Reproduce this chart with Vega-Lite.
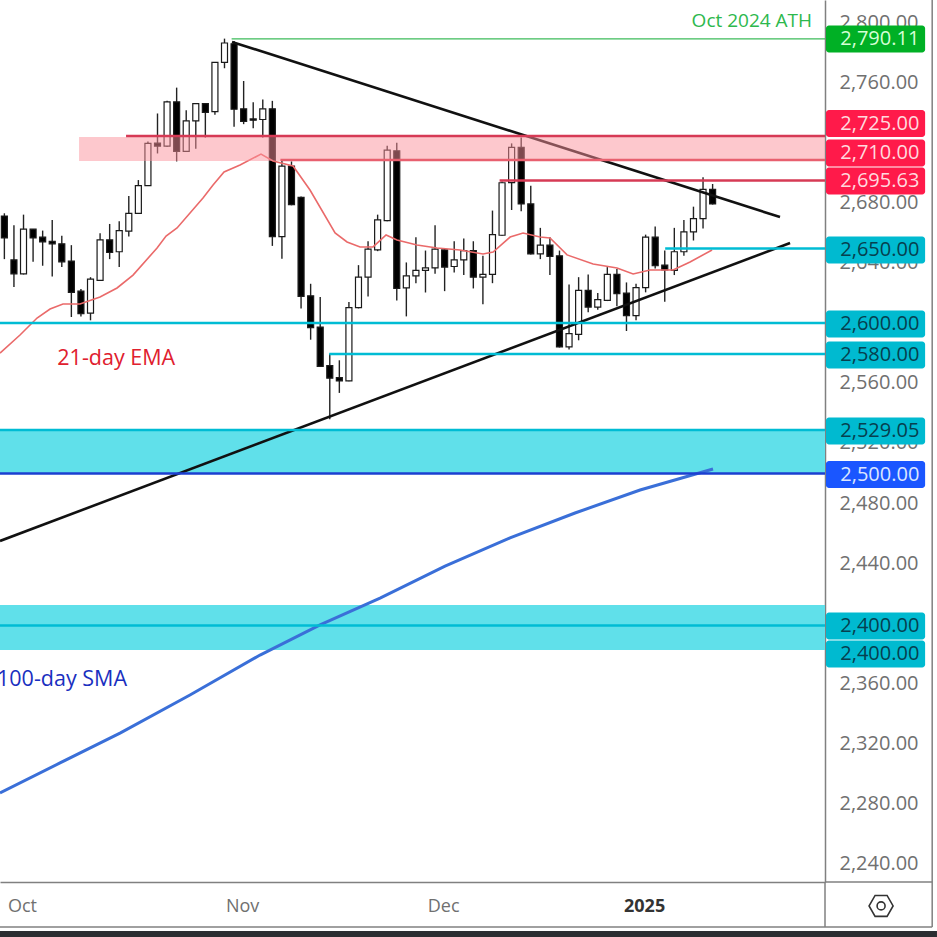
{
  "$schema": "https://vega.github.io/schema/vega-lite/v6.json",
  "width": 825,
  "height": 882,
  "autosize": {"type": "none", "contains": "content"},
  "padding": {"left": 0, "top": 0, "right": 112, "bottom": 55},
  "background": "white",
  "config": {"view": {"stroke": null}, "font": "Open Sans"},
  "datasets": {
    "candles": [
      {"bar":-2,"open":2671.0,"high":2672.8,"low":2642.3,"close":2656.4,"dir":"down"},
      {"bar":-1,"open":2641.8,"high":2664.8,"low":2623.7,"close":2632.5,"dir":"down"},
      {"bar":0,"open":2632.5,"high":2671.9,"low":2632.1,"close":2662.2,"dir":"up"},
      {"bar":1,"open":2662.2,"high":2662.2,"low":2640.5,"close":2656.4,"dir":"down"},
      {"bar":2,"open":2656.9,"high":2661.3,"low":2637.9,"close":2653.8,"dir":"down"},
      {"bar":3,"open":2654.2,"high":2668.4,"low":2630.8,"close":2652.5,"dir":"down"},
      {"bar":4,"open":2652.5,"high":2657.8,"low":2637.0,"close":2640.5,"dir":"down"},
      {"bar":5,"open":2641.0,"high":2651.6,"low":2603.8,"close":2620.2,"dir":"down"},
      {"bar":6,"open":2621.0,"high":2622.4,"low":2604.2,"close":2606.0,"dir":"down"},
      {"bar":7,"open":2606.4,"high":2630.3,"low":2601.6,"close":2629.0,"dir":"up"},
      {"bar":8,"open":2628.1,"high":2659.5,"low":2627.7,"close":2655.1,"dir":"up"},
      {"bar":9,"open":2655.1,"high":2665.7,"low":2642.3,"close":2646.7,"dir":"down"},
      {"bar":10,"open":2647.2,"high":2667.5,"low":2637.0,"close":2661.3,"dir":"up"},
      {"bar":11,"open":2660.9,"high":2684.3,"low":2657.3,"close":2672.8,"dir":"up"},
      {"bar":12,"open":2672.8,"high":2694.9,"low":2672.4,"close":2691.2,"dir":"up"},
      {"bar":13,"open":2691.2,"high":2720.6,"low":2691.0,"close":2719.3,"dir":"up"},
      {"bar":14,"open":2719.5,"high":2739.2,"low":2712.6,"close":2717.5,"dir":"down"},
      {"bar":15,"open":2717.5,"high":2747.6,"low":2717.0,"close":2746.9,"dir":"up"},
      {"bar":16,"open":2746.9,"high":2756.4,"low":2707.3,"close":2714.0,"dir":"down"},
      {"bar":17,"open":2714.0,"high":2741.4,"low":2713.5,"close":2734.3,"dir":"up"},
      {"bar":18,"open":2734.3,"high":2745.8,"low":2715.7,"close":2745.8,"dir":"up"},
      {"bar":19,"open":2745.8,"high":2745.8,"low":2723.2,"close":2740.0,"dir":"down"},
      {"bar":20,"open":2740.5,"high":2773.2,"low":2738.3,"close":2773.2,"dir":"up"},
      {"bar":21,"open":2773.2,"high":2789.0,"low":2769.3,"close":2786.1,"dir":"up"},
      {"bar":22,"open":2785.6,"high":2787.4,"low":2730.3,"close":2742.0,"dir":"down"},
      {"bar":23,"open":2742.3,"high":2760.8,"low":2732.1,"close":2733.9,"dir":"down"},
      {"bar":24,"open":2735.6,"high":2746.7,"low":2729.4,"close":2734.7,"dir":"down"},
      {"bar":25,"open":2735.2,"high":2748.5,"low":2723.2,"close":2742.3,"dir":"up"},
      {"bar":26,"open":2742.3,"high":2747.6,"low":2651.1,"close":2657.3,"dir":"down"},
      {"bar":27,"open":2657.3,"high":2708.9,"low":2642.5,"close":2704.2,"dir":"up"},
      {"bar":28,"open":2704.2,"high":2707.3,"low":2678.1,"close":2678.6,"dir":"down"},
      {"bar":29,"open":2683.4,"high":2683.9,"low":2609.5,"close":2617.5,"dir":"down"},
      {"bar":30,"open":2617.9,"high":2625.9,"low":2588.7,"close":2596.7,"dir":"down"},
      {"bar":31,"open":2597.1,"high":2617.1,"low":2570.6,"close":2571.0,"dir":"down"},
      {"bar":32,"open":2571.5,"high":2579.4,"low":2535.7,"close":2563.1,"dir":"down"},
      {"bar":33,"open":2563.5,"high":2575.0,"low":2553.3,"close":2561.3,"dir":"down"},
      {"bar":34,"open":2561.3,"high":2613.7,"low":2561.1,"close":2610.0,"dir":"up"},
      {"bar":35,"open":2610.0,"high":2638.3,"low":2609.5,"close":2630.3,"dir":"up"},
      {"bar":36,"open":2630.3,"high":2654.2,"low":2617.5,"close":2648.9,"dir":"up"},
      {"bar":37,"open":2648.5,"high":2671.9,"low":2647.6,"close":2668.4,"dir":"up"},
      {"bar":38,"open":2667.9,"high":2717.7,"low":2667.5,"close":2714.8,"dir":"up"},
      {"bar":39,"open":2714.4,"high":2719.7,"low":2614.8,"close":2622.8,"dir":"down"},
      {"bar":40,"open":2623.2,"high":2640.1,"low":2604.2,"close":2631.2,"dir":"up"},
      {"bar":41,"open":2631.2,"high":2656.9,"low":2626.3,"close":2634.8,"dir":"up"},
      {"bar":42,"open":2634.8,"high":2648.0,"low":2620.1,"close":2636.5,"dir":"up"},
      {"bar":43,"open":2636.5,"high":2664.8,"low":2632.5,"close":2648.9,"dir":"up"},
      {"bar":44,"open":2648.5,"high":2649.4,"low":2621.0,"close":2637.0,"dir":"down"},
      {"bar":45,"open":2637.4,"high":2654.2,"low":2633.4,"close":2641.8,"dir":"up"},
      {"bar":46,"open":2641.8,"high":2656.0,"low":2631.7,"close":2648.0,"dir":"up"},
      {"bar":47,"open":2648.0,"high":2654.2,"low":2622.8,"close":2630.3,"dir":"down"},
      {"bar":48,"open":2630.3,"high":2644.5,"low":2612.2,"close":2632.1,"dir":"up"},
      {"bar":49,"open":2632.1,"high":2674.6,"low":2626.3,"close":2658.6,"dir":"up"},
      {"bar":50,"open":2658.2,"high":2694.0,"low":2657.8,"close":2693.1,"dir":"up"},
      {"bar":51,"open":2693.2,"high":2719.3,"low":2675.0,"close":2716.6,"dir":"up"},
      {"bar":52,"open":2716.6,"high":2723.3,"low":2674.1,"close":2679.0,"dir":"down"},
      {"bar":53,"open":2679.0,"high":2691.2,"low":2645.4,"close":2645.8,"dir":"down"},
      {"bar":54,"open":2645.8,"high":2663.1,"low":2642.3,"close":2651.6,"dir":"up"},
      {"bar":55,"open":2651.6,"high":2656.9,"low":2631.7,"close":2644.1,"dir":"down"},
      {"bar":56,"open":2644.5,"high":2648.0,"low":2583.5,"close":2583.9,"dir":"down"},
      {"bar":57,"open":2583.9,"high":2625.5,"low":2582.1,"close":2592.7,"dir":"up"},
      {"bar":58,"open":2592.3,"high":2630.3,"low":2588.3,"close":2621.5,"dir":"up"},
      {"bar":59,"open":2621.5,"high":2632.1,"low":2606.9,"close":2610.4,"dir":"down"},
      {"bar":60,"open":2610.4,"high":2619.7,"low":2608.7,"close":2615.3,"dir":"up"},
      {"bar":61,"open":2614.9,"high":2637.0,"low":2614.4,"close":2632.1,"dir":"up"},
      {"bar":62,"open":2632.1,"high":2635.7,"low":2610.9,"close":2619.3,"dir":"down"},
      {"bar":63,"open":2619.7,"high":2626.8,"low":2594.5,"close":2604.7,"dir":"down"},
      {"bar":64,"open":2604.7,"high":2625.9,"low":2601.6,"close":2623.3,"dir":"up"},
      {"bar":65,"open":2623.3,"high":2658.6,"low":2620.2,"close":2656.9,"dir":"up"},
      {"bar":66,"open":2656.9,"high":2664.0,"low":2636.1,"close":2637.9,"dir":"down"},
      {"bar":67,"open":2638.3,"high":2648.0,"low":2614.0,"close":2635.2,"dir":"down"},
      {"bar":68,"open":2634.8,"high":2663.1,"low":2631.7,"close":2647.2,"dir":"up"},
      {"bar":69,"open":2647.2,"high":2668.4,"low":2644.5,"close":2660.4,"dir":"up"},
      {"bar":70,"open":2660.4,"high":2677.2,"low":2654.7,"close":2669.3,"dir":"up"},
      {"bar":71,"open":2669.3,"high":2696.7,"low":2662.6,"close":2688.7,"dir":"up"},
      {"bar":72,"open":2688.7,"high":2692.3,"low":2678.6,"close":2679.0,"dir":"down"}
    ],
    "ema": [
      {"bar":-2.3,"value":2579.8},{"bar":-0.21,"value":2591.8},{"bar":1.57,"value":2603.1},{"bar":2.93,"value":2609.1},
      {"bar":4.28,"value":2612.4},{"bar":6.06,"value":2612.4},{"bar":8.15,"value":2617.1},{"bar":9.93,"value":2623.1},
      {"bar":11.6,"value":2631.7},{"bar":14.11,"value":2649.7},{"bar":15.05,"value":2657.7},{"bar":16.2,"value":2663.0},
      {"bar":18.91,"value":2683.0},{"bar":19.96,"value":2691.6},{"bar":21.11,"value":2700.3},{"bar":22.78,"value":2704.9},
      {"bar":24.97,"value":2712.2},{"bar":26.23,"value":2707.6},{"bar":28.32,"value":2704.3},{"bar":30.09,"value":2688.3},
      {"bar":32.71,"value":2659.7},{"bar":33.96,"value":2653.7},{"bar":35.32,"value":2650.4},{"bar":36.68,"value":2650.4},
      {"bar":38.04,"value":2658.4},{"bar":39.18,"value":2655.0},{"bar":41.27,"value":2651.7},{"bar":43.37,"value":2649.7},
      {"bar":45.77,"value":2648.4},{"bar":48.17,"value":2645.7},{"bar":49.22,"value":2647.0},{"bar":51.0,"value":2657.0},
      {"bar":52.35,"value":2659.7},{"bar":54.13,"value":2657.0},{"bar":55.17,"value":2656.4},{"bar":56.95,"value":2645.1},
      {"bar":59.67,"value":2639.1},{"bar":62.17,"value":2636.4},{"bar":63.85,"value":2632.4},{"bar":65.62,"value":2635.1},
      {"bar":68.03,"value":2635.1},{"bar":69.8,"value":2640.4},{"bar":72.1,"value":2648.4}
    ],
    "sma": [
      {"bar":-2.3,"value":2287.1},{"bar":3.97,"value":2307.1},{"bar":10.24,"value":2327.0},{"bar":17.55,"value":2352.3},
      {"bar":24.87,"value":2378.9},{"bar":31.14,"value":2398.9},{"bar":37.41,"value":2416.8},{"bar":44.2,"value":2438.1},
      {"bar":50.99,"value":2456.8},{"bar":57.78,"value":2473.4},{"bar":64.58,"value":2488.7},{"bar":72.2,"value":2502.7}
    ],
    "trend": [
      {"bar0":21.94,"bar1":79.2,"p0":2786.8,"p1":2670.3},
      {"bar0":-2.3,"bar1":80.25,"p0":2454.8,"p1":2653.0}
    ],
    "levels": [
      {"name":"ath","kind":"ath","start":21.9,"end":83.9,"price":2788.8},
      {"name":"r2725","kind":"res","start":10.87,"end":83.9,"price":2724.2},
      {"name":"r2710","kind":"res2","start":27,"end":83.9,"price":2708.2},
      {"name":"r2695","kind":"res","start":49.9,"end":83.9,"price":2694.6},
      {"name":"s2650","kind":"sup","start":67.2,"end":83.9,"price":2649.4},
      {"name":"s2600","kind":"sup","start":-2.3,"end":83.9,"price":2599.8},
      {"name":"s2580","kind":"sup","start":32.1,"end":83.9,"price":2579.2},
      {"name":"s2529","kind":"sup","start":-2.3,"end":83.9,"price":2528.6},
      {"name":"p2500","kind":"piv","start":-2.3,"end":83.9,"price":2499.7},
      {"name":"s2400","kind":"sup","start":-2.3,"end":83.9,"price":2398.5}
    ],
    "tags": [
      {"text":"2,790.11","kind":"ath","at":2788.8},
      {"text":"2,725.00","kind":"res","at":2732.5},
      {"text":"2,710.00","kind":"res","at":2712.9},
      {"text":"2,695.63","kind":"res","at":2694.3},
      {"text":"2,650.00","kind":"sup","at":2648.4},
      {"text":"2,600.00","kind":"sup","at":2599.1},
      {"text":"2,580.00","kind":"sup","at":2578.5},
      {"text":"2,529.05","kind":"sup","at":2527.9},
      {"text":"2,500.00","kind":"piv","at":2499.0},
      {"text":"2,400.00","kind":"sup","at":2398.2},
      {"text":"2,400.00","kind":"sup","at":2379.6}
    ],
    "notes": [
      {"text":"Oct 2024 ATH","kind":"ath","bar":82.55,"price":2800.7},
      {"text":"21-day EMA","kind":"ema","bar":16.0,"price":2575.9},
      {"text":"100-day SMA","kind":"sma","bar":10.97,"price":2362.3}
    ],
    "frame": [
      {"x0":83.9,"x1":95.1,"y0":2227.9,"y1":2227.9},
      {"x0":-2.3,"x1":95.1,"y0":2198,"y1":2198},
      {"x0":95.1,"x1":95.1,"y0":2814.7,"y1":2198},
      {"x0":83.9,"x1":83.9,"y0":2227.9,"y1":2198}
    ]
  },
  "layer": [
    {
      "data": {"values": [
        {"x0":-2.3,"x1":83.9,"top":2528.6,"bottom":2500},
        {"x0":-2.3,"x1":83.9,"top":2412.2,"bottom":2382.2}
      ]},
      "mark": {"type": "rect", "color": "#60e0ea"},
      "encoding": {
        "x": {
          "field": "x0", "type": "quantitative", "title": null,
          "scale": {"domain": [-2.3, 83.9], "nice": false, "zero": false, "padding": 0},
          "axis": {
            "values": [0, 23, 44, 65],
            "labelExpr": "datum.value == 0 ? 'Oct' : datum.value == 23 ? 'Nov' : datum.value == 44 ? 'Dec' : '2025'",
            "grid": false, "ticks": false, "labelPadding": 15, "labelFontSize": 18,
            "labelColor": {"expr": "datum.value == 65 ? '#333333' : '#707070'"},
            "labelFontWeight": {"expr": "datum.value == 65 ? 'bold' : 'normal'"},
            "labelFlush": false, "labelOverlap": false, "labelBound": false,
            "domainColor": "#808080", "domainWidth": 1.5
          }
        },
        "x2": {"field": "x1"},
        "y": {
          "field": "top", "type": "quantitative", "title": null,
          "scale": {"domain": [2227.9, 2814.7], "nice": false, "zero": false, "padding": 0},
          "axis": {
            "orient": "right",
            "values": [2240, 2280, 2320, 2360, 2440, 2480, 2520, 2560, 2640, 2680, 2760, 2800],
            "format": ",.2f",
            "grid": false, "ticks": false, "labelPadding": 14, "labelFontSize": 20,
            "labelColor": "#707070", "labelOverlap": false, "labelBound": false, "labelFlush": false,
            "domainColor": "#808080", "domainWidth": 1.5
          }
        },
        "y2": {"field": "bottom"}
      }
    },
    {
      "data": {"name": "candles"},
      "mark": {"type": "rule", "color": "#222222", "strokeWidth": 1.4, "xOffset": 1.5},
      "encoding": {
        "x": {"field": "bar", "type": "quantitative", "title": null},
        "y": {"field": "low", "type": "quantitative", "title": null},
        "y2": {"field": "high"}
      }
    },
    {
      "data": {"name": "candles"},
      "mark": {"type": "bar", "size": 6, "stroke": "#1a1a1a", "strokeWidth": 1.2, "xOffset": 1.5},
      "encoding": {
        "x": {"field": "bar", "type": "quantitative", "title": null},
        "y": {"field": "open", "type": "quantitative", "title": null},
        "y2": {"field": "close"},
        "fill": {"field": "dir", "type": "nominal", "legend": null, "scale": {"domain": ["up", "down"], "range": ["#ffffff", "#000000"]}}
      }
    },
    {
      "data": {"name": "ema"},
      "mark": {"type": "line", "color": "#ea6a6a", "strokeWidth": 1.6},
      "encoding": {
        "x": {"field": "bar", "type": "quantitative", "title": null},
        "y": {"field": "value", "type": "quantitative", "title": null}
      }
    },
    {
      "data": {"name": "sma"},
      "mark": {"type": "line", "color": "#3a6fd8", "strokeWidth": 3},
      "encoding": {
        "x": {"field": "bar", "type": "quantitative", "title": null},
        "y": {"field": "value", "type": "quantitative", "title": null}
      }
    },
    {
      "data": {"name": "trend"},
      "mark": {"type": "rule", "color": "#111111", "strokeWidth": 2.6},
      "encoding": {
        "x": {"field": "bar0", "type": "quantitative", "title": null},
        "x2": {"field": "bar1"},
        "y": {"field": "p0", "type": "quantitative", "title": null},
        "y2": {"field": "p1"}
      }
    },
    {
      "data": {"values": [{"x0":5.96,"x1":83.9,"top":2723.6,"bottom":2707.6}]},
      "mark": {"type": "rect", "color": "#fb919b", "opacity": 0.5},
      "encoding": {
        "x": {"field": "x0", "type": "quantitative", "title": null},
        "x2": {"field": "x1"},
        "y": {"field": "top", "type": "quantitative", "title": null},
        "y2": {"field": "bottom"}
      }
    },
    {
      "data": {"name": "levels"},
      "transform": [{"filter": "datum.kind == 'ath'"}],
      "mark": {"type": "rule", "color": "#3dbb5a", "strokeWidth": 1.3},
      "encoding": {
        "x": {"field": "start", "type": "quantitative", "title": null},
        "x2": {"field": "end"},
        "y": {"field": "price", "type": "quantitative", "title": null}
      }
    },
    {
      "data": {"name": "levels"},
      "transform": [{"filter": "datum.kind != 'ath'"}],
      "mark": {"type": "rule", "strokeWidth": 2.5},
      "encoding": {
        "x": {"field": "start", "type": "quantitative", "title": null},
        "x2": {"field": "end"},
        "y": {"field": "price", "type": "quantitative", "title": null},
        "stroke": {"field": "kind", "type": "nominal", "legend": null, "scale": {"domain": ["res", "res2", "sup", "piv"], "range": ["#d63a55", "#e8606f", "#00bcd4", "#1c3fd0"]}}
      }
    },
    {
      "data": {"name": "tags"},
      "mark": {"type": "bar", "orient": "horizontal", "size": 27, "cornerRadius": 3},
      "encoding": {
        "x": {"datum": 84.0, "type": "quantitative", "title": null},
        "x2": {"datum": 94.36},
        "y": {"field": "at", "type": "quantitative", "title": null},
        "fill": {"field": "kind", "type": "nominal", "legend": null, "scale": {"domain": ["ath", "res", "sup", "piv"], "range": ["#00b025", "#ff1a4a", "#00bad0", "#1a56ff"]}}
      }
    },
    {
      "data": {"name": "tags"},
      "mark": {"type": "text", "align": "left", "baseline": "middle", "fontSize": 20, "fontWeight": 500},
      "encoding": {
        "x": {"datum": 85.5, "type": "quantitative", "title": null},
        "y": {"field": "at", "type": "quantitative", "title": null},
        "text": {"field": "text"},
        "color": {"field": "kind", "type": "nominal", "legend": null, "scale": {"domain": ["ath", "res", "sup", "piv"], "range": ["#d5ffd5", "#ffd9de", "#06404f", "#dbe6ff"]}}
      }
    },
    {
      "data": {"name": "notes"},
      "transform": [{"filter": "datum.kind == 'ath'"}],
      "mark": {"type": "text", "align": "right", "baseline": "middle", "fontSize": 19, "color": "#2db84d"},
      "encoding": {
        "x": {"field": "bar", "type": "quantitative", "title": null},
        "y": {"field": "price", "type": "quantitative", "title": null},
        "text": {"field": "text"}
      }
    },
    {
      "data": {"name": "notes"},
      "transform": [{"filter": "datum.kind != 'ath'"}],
      "mark": {"type": "text", "align": "right", "baseline": "middle", "fontSize": 21.5},
      "encoding": {
        "x": {"field": "bar", "type": "quantitative", "title": null},
        "y": {"field": "price", "type": "quantitative", "title": null},
        "text": {"field": "text"},
        "fill": {"field": "kind", "type": "nominal", "legend": null, "scale": {"domain": ["ema", "sma"], "range": ["#e0202e", "#1a2fc0"]}}
      }
    },
    {
      "data": {"name": "frame"},
      "mark": {"type": "rule", "color": "#808080", "strokeWidth": 1.5},
      "encoding": {
        "x": {"field": "x0", "type": "quantitative", "title": null},
        "x2": {"field": "x1"},
        "y": {"field": "y0", "type": "quantitative", "title": null},
        "y2": {"field": "y1"}
      }
    },
    {
      "data": {"values": [{"x0":-2.3,"x1":95.6,"top":2195.3,"bottom":2191.3}]},
      "mark": {"type": "rect", "color": "#2b2d31"},
      "encoding": {
        "x": {"field": "x0", "type": "quantitative", "title": null},
        "x2": {"field": "x1"},
        "y": {"field": "top", "type": "quantitative", "title": null},
        "y2": {"field": "bottom"}
      }
    },
    {
      "data": {"values": [{"bar":89.76,"price":2212}]},
      "mark": {"type": "point", "shape": "M-1,0L-.5,-.87L.5,-.87L1,0L.5,.87L-.5,.87Z", "size": 576, "filled": false, "color": "#333333", "strokeWidth": 1.6, "opacity": 1},
      "encoding": {
        "x": {"field": "bar", "type": "quantitative", "title": null},
        "y": {"field": "price", "type": "quantitative", "title": null}
      }
    },
    {
      "data": {"values": [{"bar":89.76,"price":2212}]},
      "mark": {"type": "point", "shape": "circle", "size": 64, "filled": false, "color": "#333333", "strokeWidth": 1.6, "opacity": 1},
      "encoding": {
        "x": {"field": "bar", "type": "quantitative", "title": null},
        "y": {"field": "price", "type": "quantitative", "title": null}
      }
    }
  ],
  "resolve": {"scale": {"fill": "independent", "stroke": "independent", "color": "independent"}}
}
